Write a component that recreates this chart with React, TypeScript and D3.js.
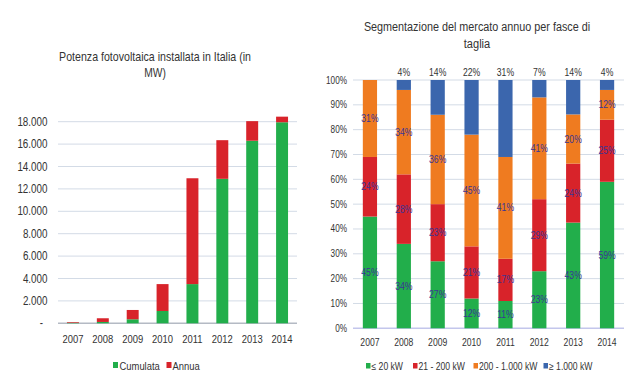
import React from "react";
import * as d3 from "d3";

const years = ["2007", "2008", "2009", "2010", "2011", "2012", "2013", "2014"];
// Left chart (MW)
const cumulata = [50, 120, 360, 1100, 3500, 12900, 16300, 17950];
const annua = [60, 330, 830, 2400, 9450, 3450, 1750, 500];
const leftTicks = [0, 2000, 4000, 6000, 8000, 10000, 12000, 14000, 16000, 18000];

// Right chart (% share)
const segKeys = ["le20", "s21_200", "s200_1000", "ge1000"];
const segNames = ["≤ 20 kW", "21 - 200 kW", "200 - 1.000 kW", "≥ 1.000 kW"];
const le20 = [45, 34, 27, 12, 11, 23, 43, 59];
const s21_200 = [24, 28, 23, 21, 17, 29, 24, 25];
const s200_1000 = [31, 34, 36, 45, 41, 41, 20, 12];
const ge1000 = [0, 4, 14, 22, 31, 7, 14, 4];
const rightTicks = [0, 0.1, 0.2, 0.3, 0.4, 0.5, 0.6, 0.7, 0.8, 0.9, 1];

const GREEN = "#22ae4b";
const RED = "#d8232a";
const ORANGE = "#ef7b20";
const BLUE = "#3b66ad";
const segColors = [GREEN, RED, ORANGE, BLUE];
const FONT = "'Liberation Sans', Arial, sans-serif";
const TXT = "#333";
const LBL = "#3a3596";
const SX = 0.82;

function T(props: { x: number; y: number; anchor?: string; size: number; fill?: string; sx?: number; children: any }) {
  const { x, y, anchor = "start", size, fill = TXT, sx = SX, children } = props;
  return (
    <text transform={`translate(${x},${y}) scale(${sx},1)`} textAnchor={anchor as any} fontSize={size} fill={fill}>
      {children}
    </text>
  );
}

export default function App() {
  // ---------- left chart ----------
  const lx = d3.scaleBand<string>().domain(years).range([58, 297]).paddingInner(0.6).paddingOuter(0.3);
  const ly = d3.scaleLinear().domain([0, 18000]).range([323.3, 121.7]);
  const fmt = (v: number) => (v === 0 ? "-" : d3.format(",")(v).replace(/,/g, "."));

  // ---------- right chart ----------
  const rx = d3.scaleBand<string>().domain(years).range([353, 624]).paddingInner(0.58).paddingOuter(0.29);
  const ry = d3.scaleLinear().domain([0, 1]).range([328.3, 80]);
  const table = years.map((y, i) => ({
    year: y,
    le20: le20[i],
    s21_200: s21_200[i],
    s200_1000: s200_1000[i],
    ge1000: ge1000[i],
  }));
  const stack = d3.stack<any>().keys(segKeys).offset(d3.stackOffsetExpand)(table);
  const legendX = [366, 413, 473.5, 543.5];

  return (
    <svg width={640} height={383} style={{ position: "absolute", left: 0, top: 0, background: "#fff" }} fontFamily={FONT}>
      <rect x={0} y={0} width={640} height={383} fill="#fff" />
      {/* LEFT TITLE */}
      <T x={155} y={61} anchor="middle" size={12.5} sx={0.85}>
        Potenza fotovoltaica installata in Italia (in
      </T>
      <T x={155} y={77} anchor="middle" size={12.5}>MW)</T>
      {/* left gridlines */}
      {leftTicks.map((t) => (
        <g key={t}>
          <line x1={58} x2={297} y1={ly(t)} y2={ly(t)} stroke={t === 0 ? "#b4bac4" : "#d3dbe6"} strokeWidth={t === 0 ? 1.5 : 1} />
          <T x={t === 0 ? 43 : 47.5} y={ly(t) + 4} anchor="end" size={12}>
            {fmt(t)}
          </T>
        </g>
      ))}
      {years.map((y, i) => (
        <g key={y}>
          <rect x={lx(y)} width={lx.bandwidth()} y={ly(cumulata[i])} height={ly(0) - ly(cumulata[i])} fill={GREEN} />
          <rect x={lx(y)} width={lx.bandwidth()} y={ly(cumulata[i] + annua[i])} height={ly(cumulata[i]) - ly(cumulata[i] + annua[i])} fill={RED} />
          <T x={(lx(y) as number) + lx.bandwidth() / 2} y={343} anchor="middle" size={11.5}>
            {y}
          </T>
        </g>
      ))}
      {/* left legend */}
      <rect x={113} y={362} width={5} height={6} fill={GREEN} />
      <T x={119.5} y={369.5} size={11.5}>Cumulata</T>
      <rect x={166.5} y={362} width={5} height={6} fill={RED} />
      <T x={172.5} y={369.5} size={11.5}>Annua</T>

      {/* RIGHT TITLE */}
      <T x={477} y={31} anchor="middle" size={13.5} sx={0.8}>
        Segmentazione del mercato annuo per fasce di
      </T>
      <T x={477} y={48} anchor="middle" size={13.5}>taglia</T>
      {rightTicks.map((t) => (
        <g key={t}>
          <line x1={353} x2={624} y1={ry(t)} y2={ry(t)} stroke={t === 0 ? "#c3c6ec" : "#d3dbe6"} strokeWidth={t === 0 ? 1.5 : 1} />
          <T x={347} y={ry(t) + 3.5} anchor="end" size={10}>
            {d3.format(".0%")(t)}
          </T>
        </g>
      ))}
      {stack.map((layer, li) => (
        <g key={layer.key}>
          {layer.map((d: any, i: number) => {
            const y0 = ry(d[0]);
            const y1 = ry(d[1]);
            const x = rx(years[i]) as number;
            const w = rx.bandwidth();
            const val = (table[i] as any)[layer.key] as number;
            if (val === 0) return null;
            const isTop = li === segKeys.length - 1;
            return (
              <g key={i}>
                <rect x={x} width={w} y={y1} height={y0 - y1} fill={segColors[li]} />
                <T x={x + w / 2} y={isTop ? ry(1) - 4 : (y0 + y1) / 2 + 3.5} anchor="middle" size={10.5} fill={isTop ? TXT : LBL}>
                  {val + "%"}
                </T>
              </g>
            );
          })}
        </g>
      ))}
      {years.map((y) => (
        <T key={y} x={(rx(y) as number) + rx.bandwidth() / 2} y={346} anchor="middle" size={10.5}>
          {y}
        </T>
      ))}
      {/* right legend */}
      {segNames.map((n, i) => (
        <g key={n}>
          <rect x={legendX[i]} y={363} width={4.5} height={5.5} fill={segColors[i]} />
          <T x={legendX[i] + 5.5} y={369.5} size={10.5}>
            {n}
          </T>
        </g>
      ))}
    </svg>
  );
}
